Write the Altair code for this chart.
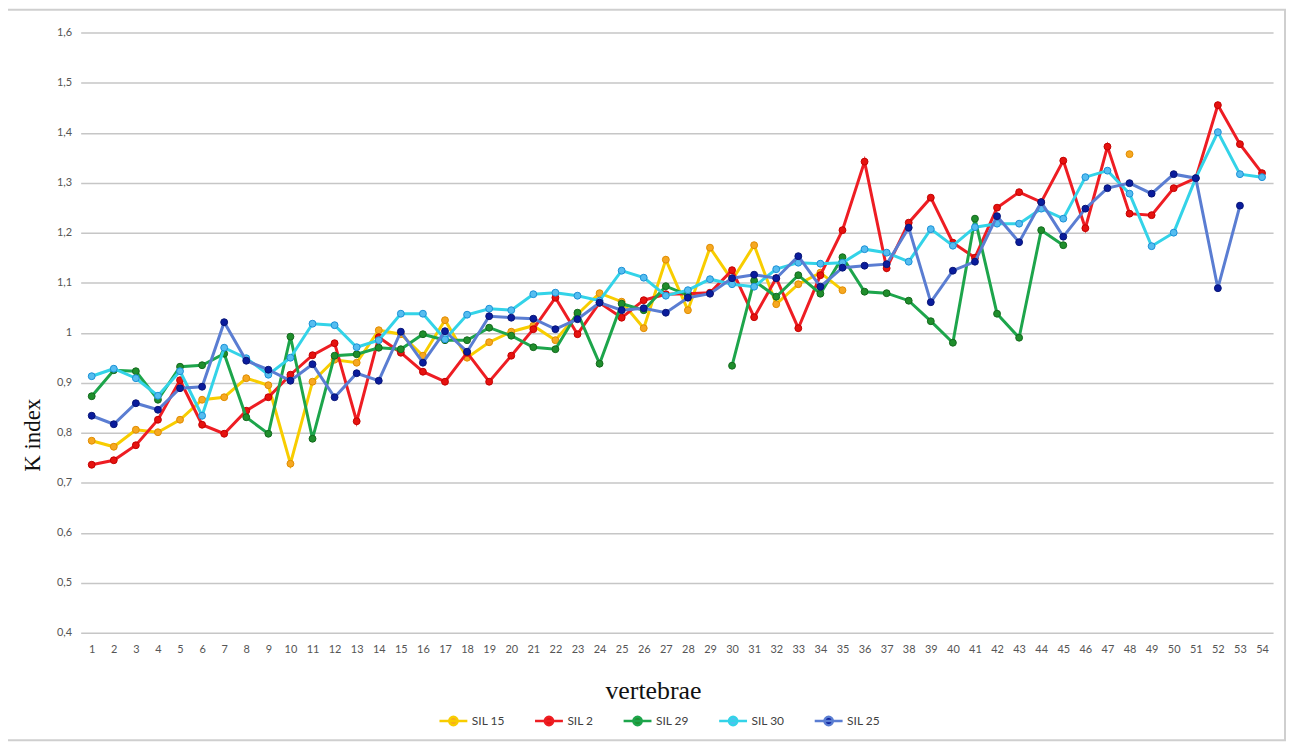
import altair as alt
import pandas as pd

vertebrae = list(range(1, 55))
N = None

sil15 = [0.784, 0.772, 0.806, 0.801, 0.826, 0.866, 0.871, 0.909, 0.895, 0.738,
         0.902, 0.946, 0.940, 1.005, 0.997, 0.954, 1.025, 0.950, 0.981, 1.002,
         1.014, 0.985, 1.037, 1.079, 1.062, 1.009, 1.146, 1.045, 1.170, 1.105,
         1.175, 1.057, 1.097, 1.120, 1.085, N, N, N, N, N,
         N, N, N, N, N, N, N, 1.357, N, N,
         N, N, N, N]
sil2 = [0.736, 0.745, 0.775, 0.826, 0.905, 0.816, 0.798, 0.844, 0.871, 0.916,
        0.955, 0.979, 0.823, 0.991, 0.960, 0.922, 0.902, 0.960, 0.902, 0.954,
        1.007, 1.070, 0.997, 1.060, 1.030, 1.065, 1.077, 1.078, 1.080, 1.125,
        1.031, 1.109, 1.009, 1.115, 1.205, 1.342, 1.129, 1.220, 1.270, 1.180,
        1.150, 1.250, 1.281, 1.261, 1.344, 1.209, 1.372, 1.238, 1.235, 1.289,
        1.309, 1.455, 1.377, 1.319]
sil29 = [0.873, 0.925, 0.923, 0.866, 0.932, 0.935, 0.958, 0.831, 0.798, 0.992,
         0.788, 0.954, 0.957, 0.970, 0.967, 0.997, 0.985, 0.985, 1.010, 0.994,
         0.971, 0.967, 1.040, 0.938, 1.058, 1.045, 1.093, 1.075, N, 0.934,
         1.104, 1.072, 1.115, 1.078, 1.151, 1.082, 1.079, 1.064, 1.023, 0.980,
         1.228, 1.038, 0.990, 1.205, 1.175, N, N, N, N, N,
         N, N, N, N]
sil30 = [0.913, 0.928, 0.909, 0.874, 0.923, 0.834, 0.970, 0.949, 0.916, 0.950,
         1.018, 1.015, 0.971, 0.985, 1.038, 1.038, 0.987, 1.036, 1.048, 1.045,
         1.077, 1.080, 1.074, 1.064, 1.124, 1.110, 1.074, 1.085, 1.107, 1.097,
         1.092, 1.127, 1.140, 1.138, 1.140, 1.167, 1.160, 1.142, 1.207, 1.174,
         1.211, 1.218, 1.218, 1.248, 1.228, 1.311, 1.324, 1.278, 1.173, 1.200,
         1.309, 1.401, 1.317, 1.311]
sil25 = [0.834, 0.817, 0.859, 0.846, 0.889, 0.892, 1.021, 0.944, 0.926, 0.904,
         0.937, 0.871, 0.919, 0.904, 1.002, 0.940, 1.003, 0.962, 1.033, 1.030,
         1.028, 1.007, 1.027, 1.060, 1.045, 1.049, 1.040, 1.070, 1.078, 1.109,
         1.116, 1.109, 1.153, 1.092, 1.130, 1.134, 1.137, 1.210, 1.061, 1.124,
         1.142, 1.233, 1.181, 1.261, 1.192, 1.248, 1.289, 1.299, 1.278, 1.317,
         1.309, 1.089, 1.254, N]

series_names = ["SIL 15", "SIL 2", "SIL 29", "SIL 30", "SIL 25"]
series_values = [sil15, sil2, sil29, sil30, sil25]
line_colors = ["#F8CD00", "#EE1D23", "#1DA54B", "#33D3E8", "#5A7DD2"]
marker_fill = ["#F6A821", "#E5120F", "#1F8E2C", "#55BDF0", "#0A1C9C"]
marker_stroke = ["#E08C00", "#C40000", "#13691D", "#1A8FD6", "#081577"]
y_ticks = [0.4, 0.5, 0.6, 0.7, 0.8, 0.9, 1.0, 1.1, 1.2, 1.3, 1.4, 1.5, 1.6]

rows = []
for name, vals in zip(series_names, series_values):
    for v, k in zip(vertebrae, vals):
        rows.append({"vertebra": v, "series": name, "K": k})
df = pd.DataFrame(rows)

W, H = 1198, 603

x_enc = alt.X(
    "vertebra:O",
    scale=alt.Scale(type="point", padding=0.5),
    axis=alt.Axis(
        title="vertebrae", labelAngle=0, ticks=False, domain=False, grid=False,
        labelFont="Lato", labelFontSize=11, labelColor="#555555", labelPadding=11,
        titleFont="Liberation Serif", titleFontSize=26, titleFontWeight="normal",
        titleColor="#111111", titleX=575, titleY=58, titleBaseline="middle",
    ),
)
y_enc = alt.Y(
    "K:Q",
    scale=alt.Scale(domain=[0.4, 1.6], nice=False, zero=False),
    axis=alt.Axis(
        title="K index", values=y_ticks, ticks=False, domain=False,
        labelExpr="datum.value == 1 ? '1' : replace(format(datum.value, '.1f'), '.', ',')",
        labelFont="Lato", labelFontSize=11, labelColor="#555555", labelPadding=9,
        gridColor="#C6C6C6", gridWidth=1.5,
        titleFont="Liberation Serif", titleFontSize=23, titleFontWeight="normal",
        titleColor="#111111", titleX=-36, titleY=404, titleAngle=-90,
        titleBaseline="bottom", titleAlign="center",
    ),
)

legend_symbol = "M-1,0L1,0M0.3,0A0.3,0.3,0,1,1,-0.3,0A0.3,0.3,0,1,1,0.3,0Z"

color_enc = alt.Color(
    "series:N",
    scale=alt.Scale(domain=series_names, range=line_colors),
    legend=alt.Legend(
        title=None, orient="none", direction="horizontal",
        legendX=359, legendY=676, symbolType=legend_symbol, symbolSize=784,
        symbolStrokeWidth=2.5, labelFont="Lato", labelFontSize=12,
        labelColor="#404040", columnPadding=24, labelOffset=3,
    ),
)
fill_enc = alt.Fill("series:N", scale=alt.Scale(domain=series_names, range=marker_fill), legend=None)
stroke_enc = alt.Stroke("series:N", scale=alt.Scale(domain=series_names, range=marker_stroke), legend=None)

base = alt.Chart(df)
layers = []
for name in series_names:
    sub = base.transform_filter(alt.datum.series == name)
    layers.append(sub.mark_line(strokeWidth=3).encode(x=x_enc, y=y_enc, color=color_enc))
    layers.append(sub.mark_circle(size=48, opacity=1, strokeWidth=1).encode(
        x=x_enc, y=y_enc, fill=fill_enc, stroke=stroke_enc))

frame = alt.Chart(pd.DataFrame({"f": [0]})).mark_rect(
    fill="transparent", stroke="#CFCFCF", strokeWidth=2
).encode(x=alt.value(-75), x2=alt.value(1210), y=alt.value(-23), y2=alt.value(711))

chart = alt.layer(frame, *layers).properties(
    width=W, height=H,
    autosize=alt.AutoSizeParams(type="none"),
    padding={"left": 73, "top": 23, "right": 14, "bottom": 112},
    background="white",
).configure_view(strokeWidth=0)

chart.save("out.html", embed_options={"renderer": "svg", "actions": False})
